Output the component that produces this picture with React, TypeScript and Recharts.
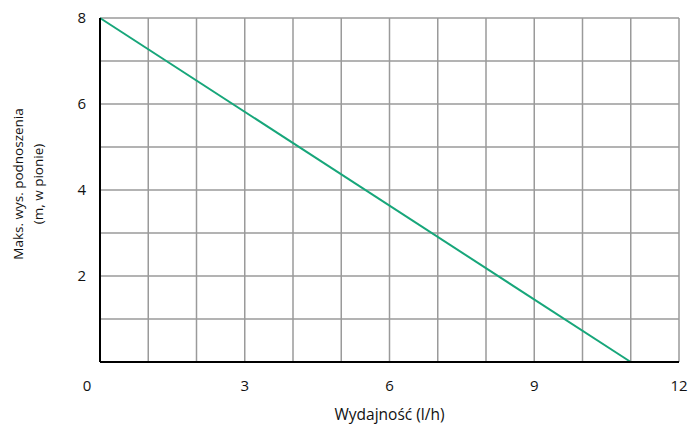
import React from "react";
import { LineChart, Line, XAxis, YAxis, CartesianGrid } from "recharts";

const flowValues = [0, 11];
const heightValues = [8, 0];
const xTicks = [0, 3, 6, 9, 12];
const yTicks = [2, 4, 6, 8];
const xGrid = [0, 1, 2, 3, 4, 5, 6, 7, 8, 9, 10, 11, 12];
const yGrid = [0, 1, 2, 3, 4, 5, 6, 7, 8];
const xLabel = "Wydajność (l/h)";
const yLabelLines = ["Maks. wys. podnoszenia", "(m, w pionie)"];

const data = flowValues.map((x, i) => ({ x, y: heightValues[i] }));

const FONT = "'Open Sans', 'Noto Sans', sans-serif";

const XTick = (props: any) => {
  const { x, y, payload } = props;
  const shift = payload.value === 0 ? -13 : 0;
  return (
    <text x={x + shift} y={y} dy="0.71em" textAnchor="middle" fill="#111" fontSize={15} fontFamily={FONT}>
      {payload.value}
    </text>
  );
};

const XLabel = (props: any) => {
  const { viewBox } = props;
  const cx = viewBox.x + viewBox.width / 2;
  return (
    <text x={cx} y={414} textAnchor="middle" dominantBaseline="central" fill="#111" fontSize={15.5} fontFamily={FONT}>
      {xLabel}
    </text>
  );
};

const YLabel = (props: any) => {
  const { viewBox } = props;
  const cy = viewBox.y + viewBox.height / 2 - 6;
  return (
    <g>
      <text x={18} y={cy} transform={`rotate(-90, 18, ${cy})`} textAnchor="middle" dominantBaseline="central" fill="#111" fontSize={13.5} fontFamily={FONT}>
        {yLabelLines[0]}
      </text>
      <text x={38} y={cy} transform={`rotate(-90, 38, ${cy})`} textAnchor="middle" dominantBaseline="central" fill="#111" fontSize={13.5} fontFamily={FONT}>
        {yLabelLines[1]}
      </text>
    </g>
  );
};

export default function App() {
  return (
    <div style={{ position: "absolute", left: 0, top: 0, width: 689, height: 426, background: "#fff" }}>
      <LineChart width={689} height={426} data={data} margin={{ top: 18, right: 10, left: 0, bottom: 0 }}>
        <CartesianGrid stroke="#9a9a9a" strokeWidth={1.5} verticalValues={xGrid} horizontalValues={yGrid} />
        <XAxis
          dataKey="x"
          type="number"
          domain={[0, 12]}
          ticks={xTicks}
          height={64}
          tickLine={false}
          tickSize={6}
          tickMargin={12}
          axisLine={{ stroke: "#000", strokeWidth: 2 }}
          tick={<XTick />}
          label={<XLabel />}
        />
        <YAxis
          type="number"
          domain={[0, 8]}
          ticks={yTicks}
          width={100}
          tickLine={false}
          tickSize={6}
          tickMargin={8}
          axisLine={{ stroke: "#000", strokeWidth: 2 }}
          tick={{ fill: "#111", fontSize: 15, fontFamily: FONT }}
          label={<YLabel />}
        />
        <Line dataKey="y" stroke="#17a67a" strokeWidth={2} dot={false} isAnimationActive={false} />
      </LineChart>
    </div>
  );
}
